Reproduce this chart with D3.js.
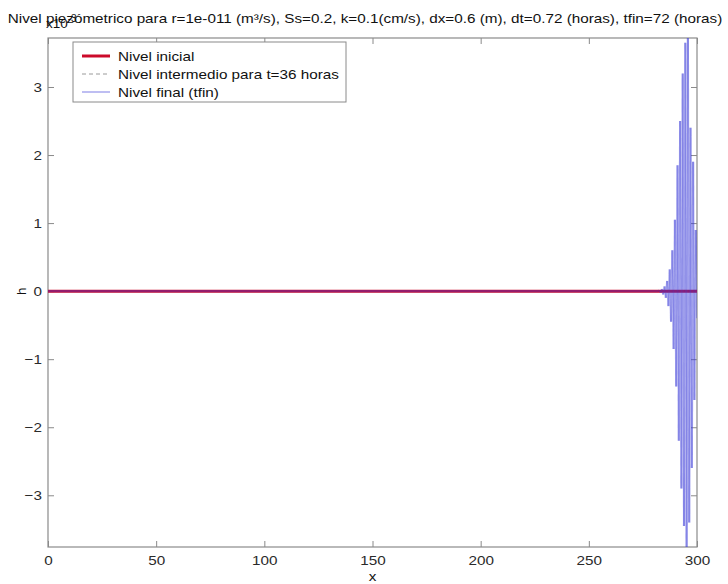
<!DOCTYPE html>
<html>
<head>
<meta charset="utf-8">
<script src="https://cdn.jsdelivr.net/npm/d3@7"></script>
<style>
  html, body { margin: 0; padding: 0; background: #fff; }
  svg { display: block; font-family: "Liberation Sans", Arial, sans-serif; }
</style>
</head>
<body>
<svg id="chart" width="728" height="584"></svg>
<script>
// Piezometric head along x (values in units of 1e-3)
const xTicks = [0, 50, 100, 150, 200, 250, 300];
const yTicks = [-3, -2, -1, 0, 1, 2, 3];

// Initial level: flat at zero across the domain
const initialX = [0, 300];
const initialH = [0, 0];

// Intermediate level at t = 36 h
const midX = [0, 300];
const midH = [0, 0];

// Final level (tfin): numerical oscillation near the right boundary
const finalX = [0, 282.0, 282.6, 283.2, 283.8, 284.4, 285.0, 285.6, 286.2, 286.8, 287.4, 288.0, 288.6, 289.2,
  289.8, 290.4, 291.0, 291.6, 292.2, 292.8, 293.4, 294.0, 294.6, 295.2, 295.8, 296.4,
  297.0, 297.6, 298.2, 298.8, 299.4, 300.0];
const finalH = [0, 0, 0.01, -0.02, 0.03, -0.05, 0.07, -0.1, 0.15, -0.22, 0.32, -0.45, 0.6, -0.85,
  1.05, -1.4, 1.85, -2.2, 2.5, -2.9, 3.2, -3.45, 3.65, -3.76, 3.72, -3.4,
  2.4, -2.6, 1.9, -1.6, 0.9, -0.4];

const legendLabels = ["Nivel inicial", "Nivel intermedio para t=36 horas", "Nivel final (tfin)"];
const titleText = "Nivel piezómetrico para r=1e-011 (m\u00B3/s), Ss=0.2, k=0.1(cm/s), dx=0.6 (m), dt=0.72 (horas), tfin=72 (horas)";

const svg = d3.select("#chart");
const margin = { left: 48, right: 31, top: 38, bottom: 37 };
const W = 728, H = 584;
const iw = W - margin.left - margin.right;
const ih = H - margin.top - margin.bottom;
const fs = 13.5;      // base font size
const stretch = 1.13; // horizontal text widening

// widen a text element horizontally around its anchor
function widen(sel) {
  sel.each(function () {
    const len = this.getComputedTextLength();
    d3.select(this).attr("textLength", len * stretch).attr("lengthAdjust", "spacingAndGlyphs");
  });
  return sel;
}

const x = d3.scaleLinear().domain([0, 300]).range([0, iw]);
const y = d3.scaleLinear().domain(d3.extent(finalH)).range([ih, 0]);

const defs = svg.append("defs");
defs.append("clipPath").attr("id", "plotClip")
  .append("rect").attr("width", iw).attr("height", ih);
defs.append("filter").attr("id", "soft").attr("x", "-20%").attr("y", "-5%")
  .attr("width", "140%").attr("height", "110%")
  .append("feGaussianBlur").attr("stdDeviation", 0.6);

const g = svg.append("g").attr("transform", `translate(${margin.left},${margin.top})`);

const axisColor = "#8a8a8a";
const tickText = "#2a2a2a";

// Axes with inward ticks on all four sides
const ax = [
  { a: d3.axisBottom(x).tickValues(xTicks).tickFormat(d3.format("d")), t: `translate(0,${ih})`, pad: 8 },
  { a: d3.axisTop(x).tickValues(xTicks).tickFormat(""), t: "translate(0,0)", pad: 3 },
  { a: d3.axisLeft(y).tickValues(yTicks).tickFormat(d3.format("d")), t: "translate(0,0)", pad: 6 },
  { a: d3.axisRight(y).tickValues(yTicks).tickFormat(""), t: `translate(${iw},0)`, pad: 3 }
];
ax.forEach(o => {
  o.a.tickSizeInner(-6).tickSizeOuter(0).tickPadding(o.pad);
  const s = g.append("g").attr("transform", o.t).call(o.a);
  s.select(".domain").remove();
  s.selectAll("line").attr("stroke", axisColor);
  widen(s.selectAll("text").attr("fill", tickText).attr("font-size", fs).attr("font-family", null));
});
g.append("rect").attr("width", iw).attr("height", ih)
  .attr("fill", "none").attr("stroke", axisColor).attr("stroke-width", 1.2);

const line = d3.line().x(d => x(d[0])).y(d => y(d[1]));
const plot = g.append("g").attr("clip-path", "url(#plotClip)");

plot.append("path").datum(d3.zip(midX, midH)).attr("d", line)
  .attr("fill", "none").attr("stroke", "#9a9a9a").attr("stroke-width", 1).attr("stroke-dasharray", "4,3");
plot.append("path").datum(d3.zip(initialX, initialH)).attr("d", line)
  .attr("fill", "none").attr("stroke", "#cc0a2a").attr("stroke-width", 3);

// Final level drawn segment by segment so overlaps darken
const pts = d3.zip(finalX, finalH);
plot.append("g").attr("filter", "url(#soft)")
  .selectAll("line").data(d3.pairs(pts)).join("line")
  .attr("x1", d => x(d[0][0])).attr("y1", d => y(d[0][1]))
  .attr("x2", d => x(d[1][0])).attr("y2", d => y(d[1][1]))
  .attr("stroke", "#3a3ad8").attr("stroke-opacity", 0.38).attr("stroke-width", 2.1);

// Title and labels
widen(svg.append("text").attr("x", 365).attr("y", 23).attr("text-anchor", "middle")
  .attr("font-size", fs).attr("fill", "#111").text(titleText));
const ex = svg.append("text").attr("x", 46).attr("y", 28).attr("font-size", fs).attr("fill", "#111");
ex.append("tspan").text("x10");
ex.append("tspan").attr("dy", -6).attr("font-size", 10).text("-3");

widen(svg.append("text").attr("x", margin.left + iw / 2).attr("y", 581).attr("text-anchor", "middle")
  .attr("font-size", fs).attr("fill", "#111").text("x"));
svg.append("text").attr("transform", `translate(21,${margin.top + y(0)}) rotate(-90)`)
  .attr("text-anchor", "middle").attr("dy", "0.35em").attr("font-size", fs).attr("fill", "#111").text("h");

// Legend
const lg = svg.append("g").attr("transform", "translate(73,42)");
lg.append("rect").attr("width", 273).attr("height", 60).attr("fill", "#fff")
  .attr("stroke", axisColor).attr("stroke-width", 1);
const styles = [
  { c: "#cc0a2a", w: 3, dash: null, o: 1 },
  { c: "#9a9a9a", w: 1, dash: "4,3", o: 1 },
  { c: "#3a3ad8", w: 1.3, dash: null, o: 0.5 }
];
legendLabels.forEach((lab, i) => {
  const yy = 14 + i * 18;
  lg.append("line").attr("x1", 9).attr("x2", 37).attr("y1", yy).attr("y2", yy)
    .attr("stroke", styles[i].c).attr("stroke-width", styles[i].w)
    .attr("stroke-opacity", styles[i].o)
    .attr("stroke-dasharray", styles[i].dash);
  widen(lg.append("text").attr("x", 45).attr("y", yy + 4.5).attr("font-size", fs)
    .attr("fill", "#111").text(lab));
});
</script>
</body>
</html>
